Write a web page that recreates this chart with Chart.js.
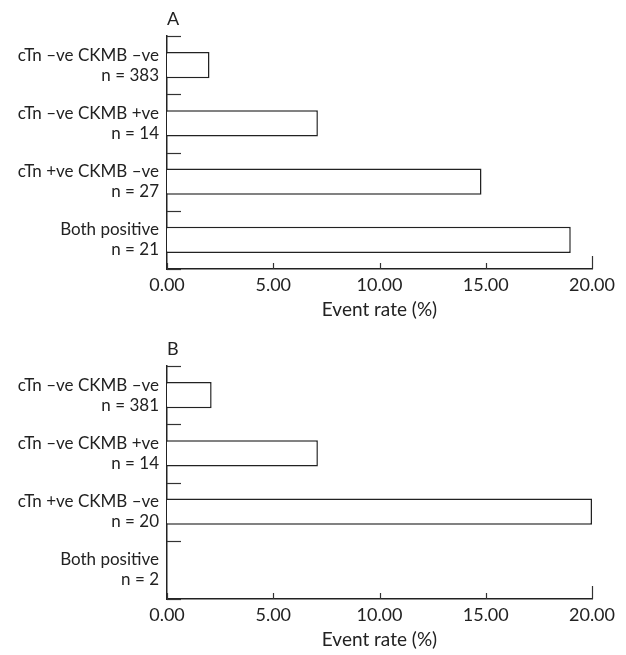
<!DOCTYPE html>
<html>
<head>
<meta charset="utf-8">
<script src="https://cdn.jsdelivr.net/npm/chart.js@4/dist/chart.umd.min.js"></script>
<style>
  html, body { margin: 0; padding: 0; background: #fff; overflow: hidden; }
  .panel { position: absolute; left: 0; width: 626px; height: 330px; }
  #panelA { top: 0; }
  #panelB { top: 330px; }
</style>
</head>
<body>
<div class="panel" id="panelA"><canvas id="chartA"></canvas></div>
<div class="panel" id="panelB"><canvas id="chartB"></canvas></div>
<script>
// Data
const categoriesA = [
  ["cTn \u2013ve CKMB \u2013ve", "n = 383"],
  ["cTn \u2013ve CKMB +ve", "n = 14"],
  ["cTn +ve CKMB \u2013ve", "n = 27"],
  ["Both positive", "n = 21"],
]
const valuesA = [2.0, 7.1, 14.8, 19.0]

const categoriesB = [
  ["cTn \u2013ve CKMB \u2013ve", "n = 381"],
  ["cTn \u2013ve CKMB +ve", "n = 14"],
  ["cTn +ve CKMB \u2013ve", "n = 20"],
  ["Both positive", "n = 2"],
]
const valuesB = [2.1, 7.1, 20.0, 0]

const xTicks = [0, 5, 10, 15, 20]
const xTitle = "Event rate (%)"

const FONT = "Lato, 'DejaVu Sans', sans-serif"
const INK = "#222"

// ticks drawn inward from the axes, plus the panel letter
const inwardTicks = {
  id: "inwardTicks",
  afterDraw(chart, args, opts) {
    const { ctx } = chart
    const x = chart.scales.x
    const y = chart.scales.y
    ctx.save()
    ctx.strokeStyle = "#333"
    ctx.lineWidth = 1.2
    const n = y.ticks.length
    for (let i = 0; i <= n; i++) {
      const py = Math.round(y.top + (i * (y.bottom - y.top)) / n) + 0.5
      ctx.beginPath()
      ctx.moveTo(x.left, py)
      ctx.lineTo(x.left + 14, py)
      ctx.stroke()
    }
    x.ticks.forEach((t, i) => {
      const px = Math.round(x.getPixelForValue(t.value)) + 0.5
      const len = i === x.ticks.length - 1 ? 13 : 6
      ctx.beginPath()
      ctx.moveTo(px, x.top)
      ctx.lineTo(px, x.top - len)
      ctx.stroke()
    })
    ctx.fillStyle = INK
    ctx.font = "18px " + FONT
    ctx.textBaseline = "middle"
    ctx.textAlign = "left"
    ctx.fillText(opts.letter, x.left, 19)
    ctx.restore()
  },
}

function makeChart(id, letter, labels, values) {
  return new Chart(document.getElementById(id), {
    type: "bar",
    data: {
      labels: labels,
      datasets: [
        {
          data: values,
          backgroundColor: "#fff",
          borderColor: INK,
          borderWidth: 1.5,
          borderSkipped: "start",
          barPercentage: 0.45,
          categoryPercentage: 1,
        },
      ],
    },
    options: {
      indexAxis: "y",
      responsive: true,
      maintainAspectRatio: false,
      animation: false,
      layout: { padding: { top: 36, right: 34, left: 0, bottom: 0 } },
      plugins: {
        legend: { display: false },
        tooltip: { enabled: false },
        inwardTicks: { letter: letter },
      },
      scales: {
        x: {
          min: 0,
          max: 20,
          afterBuildTicks: (scale) => {
            scale.ticks = xTicks.map((v) => ({ value: v }))
          },
          grid: { display: false, drawTicks: false },
          border: { display: true, color: INK, width: 1.5 },
          ticks: {
            padding: 5,
            color: INK,
            font: { family: FONT, size: 18 },
            maxRotation: 0,
            callback: (v) => Number(v).toFixed(2),
          },
          title: {
            display: true,
            text: xTitle,
            color: INK,
            font: { family: FONT, size: 19 },
            padding: { top: 2, bottom: 9 },
          },
          afterFit: (scale) => {
            scale.height = 61
          },
        },
        y: {
          grid: { display: false, drawTicks: false, offset: true },
          border: { display: true, color: INK, width: 1.5 },
          ticks: {
            padding: 8,
            color: INK,
            font: { family: FONT, size: 17, lineHeight: 1.18 },
          },
          afterFit: (scale) => {
            scale.width = 167
          },
        },
      },
    },
    plugins: [inwardTicks],
  })
}

makeChart("chartA", "A", categoriesA, valuesA)
makeChart("chartB", "B", categoriesB, valuesB)
</script>
</body>
</html>
